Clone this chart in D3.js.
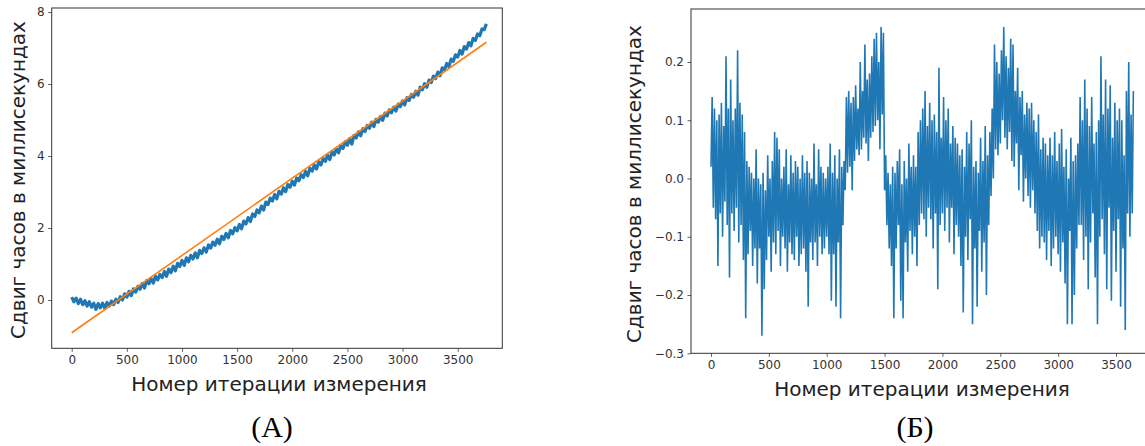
<!DOCTYPE html>
<html>
<head>
<meta charset="utf-8">
<script src="https://cdn.jsdelivr.net/npm/d3@7"></script>
<style>
html,body{margin:0;padding:0;background:#fff;}
svg{display:block;}
text{font-family:"DejaVu Sans",sans-serif;}
</style>
</head>
<body>
<svg id="chart" width="1145" height="446"></svg>
<script>
// ---------- DATA ----------
// Panel A: clock offset (ms), one reading every 20 iterations
const stepA = 20;
const offsetA = [
 0.08,-0.05,0.05,-0.10,0.02, -0.13,-0.02,-0.17,-0.05,-0.20,
 -0.09,-0.26,-0.10,-0.22,-0.09, -0.23,-0.07,-0.17,-0.03,-0.13,
 0.02,-0.07,0.09,0.00,0.17, 0.08,0.24,0.12,0.31,0.22,
 0.38,0.30,0.46,0.33,0.54, 0.45,0.60,0.47,0.66,0.56,
 0.71,0.62,0.79,0.66,0.86, 0.76,0.94,0.81,1.02,0.93,
 1.10,0.96,1.17,1.06,1.24, 1.14,1.31,1.17,1.38,1.29,
 1.45,1.33,1.53,1.44,1.61, 1.52,1.69,1.56,1.77,1.68,
 1.85,1.73,1.93,1.84,2.01, 1.92,2.10,1.98,2.19,2.11,
 2.29,2.18,2.39,2.32,2.50, 2.42,2.61,2.50,2.72,2.65,
 2.83,2.75,2.93,2.81,3.02, 2.94,3.12,3.01,3.21,3.13,
 3.30,3.19,3.39,3.31,3.48, 3.40,3.57,3.45,3.66,3.58,
 3.75,3.64,3.84,3.75,3.93, 3.85,4.02,3.90,4.11,4.03,
 4.20,4.09,4.29,4.21,4.39, 4.30,4.48,4.33,4.57,4.50,
 4.67,4.56,4.76,4.68,4.85, 4.77,4.94,4.82,5.02,4.94,
 5.10,4.99,5.19,5.11,5.28, 5.20,5.36,5.25,5.44,5.37,
 5.53,5.42,5.62,5.54,5.71, 5.63,5.80,5.69,5.91,5.84,
 6.01,5.91,6.11,6.04,6.22, 6.15,6.33,6.23,6.45,6.39,
 6.57,6.48,6.69,6.63,6.81, 6.75,6.93,6.83,7.04,6.97,
 7.15,7.06,7.27,7.21,7.39, 7.34,7.53,7.51,7.67
];
// Panel A: linear fit end points [iteration, offset]
const fitStart = [0, -0.91];
const fitEnd = [3760, 7.16];

// Panel B: residual offset (ms), one reading every 10 iterations
const stepB = 10;
const residualB = [
 0.02,0.14,-0.05,0.12,-0.07,0.10,-0.15,0.11,-0.06,0.13,-0.10,0.09,-0.04,0.21,-0.08,0.12,-0.17,0.17,-0.06,0.10,
 -0.09,0.12,-0.05,0.22,-0.11,0.13,-0.08,0.11,-0.14,0.08,-0.24,0.03,-0.13,0.02,-0.09,0.01,-0.15,0.00,-0.12,0.05,
 -0.18,0.00,-0.12,-0.01,-0.27,0.01,-0.19,-0.02,-0.14,0.04,-0.10,0.00,-0.16,0.03,-0.11,0.08,-0.13,0.07,-0.09,0.05,
 -0.15,0.00,-0.10,0.02,-0.12,0.05,-0.16,-0.01,-0.11,0.04,-0.13,0.01,-0.14,0.03,-0.10,0.02,-0.15,0.00,-0.13,0.04,
 -0.12,0.01,-0.16,0.03,-0.22,0.01,-0.11,0.00,-0.14,0.06,-0.11,-0.01,-0.15,0.05,-0.10,0.02,-0.13,0.01,-0.12,0.00,
 -0.10,0.02,-0.13,0.06,-0.21,0.01,-0.13,0.04,-0.22,0.00,-0.11,0.05,-0.24,0.02,-0.08,0.03,-0.02,0.14,0.01,0.15,
 0.02,0.13,-0.02,0.14,0.03,0.16,0.05,0.12,0.04,0.20,0.05,0.15,0.07,0.23,0.06,0.17,0.03,0.18,0.07,0.21,
 0.08,0.24,0.09,0.25,0.10,0.20,0.05,0.26,0.11,0.25,-0.02,0.04,-0.08,0.01,-0.12,-0.01,-0.15,0.02,-0.24,0.01,
 -0.12,0.03,-0.08,0.05,-0.21,-0.01,-0.24,0.03,-0.11,0.00,-0.16,0.06,-0.09,0.02,-0.13,0.04,-0.10,0.02,-0.15,0.08,
 -0.08,0.10,-0.06,0.12,-0.07,0.15,-0.10,0.09,-0.05,0.13,-0.07,0.10,-0.12,0.11,-0.06,0.08,-0.19,0.19,-0.08,0.07,
 -0.06,0.14,-0.09,0.10,-0.05,0.12,-0.11,0.06,-0.05,0.09,-0.13,0.07,-0.08,0.06,-0.10,0.04,-0.15,0.05,-0.23,0.02,
 -0.10,0.08,-0.14,0.06,-0.07,0.10,-0.25,0.02,-0.12,0.03,-0.22,0.01,-0.09,0.07,-0.16,0.03,-0.11,0.09,-0.20,0.04,
 -0.08,0.08,-0.03,0.12,0.00,0.23,0.05,0.20,0.04,0.18,0.06,0.22,0.10,0.26,0.07,0.21,0.05,0.19,0.08,0.24,
 0.03,0.23,0.02,0.15,0.06,0.19,-0.02,0.14,0.04,0.15,-0.04,0.11,0.00,0.13,-0.03,0.12,-0.05,0.13,-0.02,0.10,
 -0.06,0.08,-0.09,0.11,-0.12,0.05,-0.10,0.07,-0.11,0.06,-0.14,0.04,-0.09,0.07,-0.15,0.04,-0.12,0.08,-0.10,0.03,
 -0.13,0.06,-0.16,0.085,-0.11,0.02,-0.18,0.05,-0.25,0.00,-0.09,0.07,-0.25,0.03,-0.20,0.04,-0.12,0.06,-0.08,0.14,
 -0.08,0.10,-0.14,0.17,-0.10,0.12,-0.19,0.09,-0.11,0.14,-0.06,0.06,-0.17,0.08,-0.25,0.10,-0.10,0.21,-0.07,0.11,
 -0.13,0.17,-0.19,0.12,-0.05,0.16,-0.21,0.07,-0.09,0.13,-0.16,0.10,-0.07,0.12,-0.22,0.10,-0.12,0.04,-0.26,0.15,
 -0.06,0.20,-0.10,0.11,-0.06,0.15
];

// Tick values and labels
const xTicks = [0, 500, 1000, 1500, 2000, 2500, 3000, 3500];
const yTicksA = [0, 2, 4, 6, 8];
const yTicksB = [-0.3, -0.2, -0.1, 0.0, 0.1, 0.2];
const yLabel = "Сдвиг часов в миллисекундах";
const xLabel = "Номер итерации измерения";
const panelLabels = ["(А)", "(Б)"];

// ---------- DRAW ----------
const svg = d3.select("#chart");
const BLUE = "#1f77b4", ORANGE = "#ff7f0e", INK = "#333";

function panel(cfg) {
  const g = svg.append("g");
  const x = d3.scaleLinear().domain(cfg.xDomain).range([cfg.left, cfg.right]);
  const y = d3.scaleLinear().domain(cfg.yDomain).range([cfg.bottom, cfg.top]);

  const clipId = "clip" + cfg.id;
  svg.append("clipPath").attr("id", clipId).append("rect")
    .attr("x", cfg.left).attr("y", cfg.top)
    .attr("width", cfg.right - cfg.left).attr("height", cfg.bottom - cfg.top);
  const plot = g.append("g").attr("clip-path", `url(#${clipId})`);

  const xa = g.append("g").attr("transform", `translate(0,${cfg.bottom})`)
    .call(d3.axisBottom(x).tickValues(xTicks).tickFormat(d3.format("d")).tickSizeOuter(0).tickSize(3.5).tickPadding(3.5));
  const ya = g.append("g").attr("transform", `translate(${cfg.left},0)`)
    .call(d3.axisLeft(y).tickValues(cfg.yTicks).tickFormat(cfg.yFormat).tickSizeOuter(0).tickSize(3.5).tickPadding(3.5));
  [xa, ya].forEach(a => {
    a.select(".domain").remove();
    a.selectAll(".tick line").attr("stroke", INK).attr("stroke-width", 0.8);
    a.selectAll(".tick text").attr("fill", INK).style("font-size", "12px").style("font-family", "DejaVu Sans");
  });

  g.append("rect").attr("x", cfg.left).attr("y", cfg.top)
    .attr("width", cfg.right - cfg.left).attr("height", cfg.bottom - cfg.top)
    .attr("fill", "none").attr("stroke", INK).attr("stroke-width", 1);

  g.append("text").attr("x", cfg.xLabelX).attr("y", cfg.xLabelY)
    .attr("text-anchor", "middle").attr("fill", "#222").style("font-size", "20px").text(xLabel);
  g.append("text").attr("transform", `translate(${cfg.yLabelX},${cfg.yLabelY}) rotate(-90)`)
    .attr("text-anchor", "middle").attr("fill", "#222").style("font-size", "20px").text(yLabel);
  g.append("text").attr("x", cfg.tagX).attr("y", cfg.tagY).attr("text-anchor", "middle")
    .attr("fill", "#000").style("font-family", "Liberation Serif, serif").style("font-size", "30px").text(cfg.tag);
  return {plot, x, y};
}

// Panel A
const A = panel({
  id: "A", left: 51.7, right: 502.3, top: 8, bottom: 348.3,
  xDomain: [-181.3, 3904.3], yDomain: [-1.342, 8.111],
  yTicks: yTicksA, yFormat: d3.format("d"),
  xLabelX: 279, xLabelY: 390.5, yLabelX: 25, yLabelY: 180,
  tagX: 272, tagY: 437, tag: panelLabels[0]
});
A.plot.append("path").datum(offsetA)
  .attr("fill", "none").attr("stroke", BLUE).attr("stroke-width", 3.2).attr("stroke-linejoin", "round")
  .attr("d", d3.line().x((d, i) => A.x(i * stepA)).y(d => A.y(d)));
A.plot.append("path").datum([fitStart, fitEnd])
  .attr("fill", "none").attr("stroke", ORANGE).attr("stroke-width", 1.6)
  .attr("d", d3.line().x(d => A.x(d[0])).y(d => A.y(d[1])));

// Panel B
const B = panel({
  id: "B", left: 691, right: 1150, top: 9, bottom: 353.3,
  xDomain: [-172.8, 3793.8], yDomain: [-0.3, 0.2909],
  yTicks: yTicksB, yFormat: d3.format(".1f"),
  xLabelX: 922, xLabelY: 395.5, yLabelX: 641, yLabelY: 184,
  tagX: 915, tagY: 437, tag: panelLabels[1]
});
B.plot.append("path").datum(residualB)
  .attr("fill", "none").attr("stroke", BLUE).attr("stroke-width", 1.6).attr("stroke-linejoin", "miter")
  .attr("d", d3.line().x((d, i) => B.x(i * stepB)).y(d => B.y(d)));
</script>
</body>
</html>
